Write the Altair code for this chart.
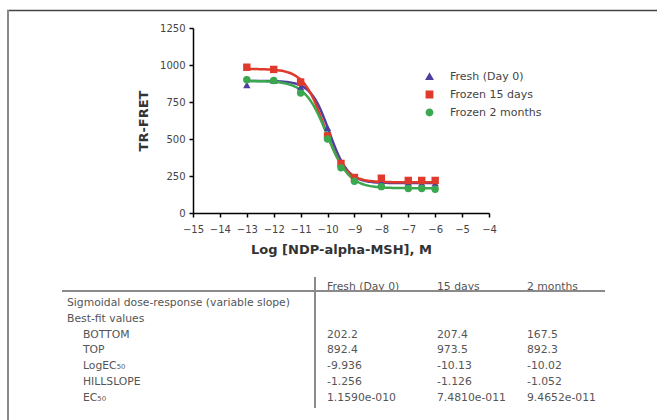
import altair as alt
import numpy as np
import pandas as pd

# ---------------- data ----------------
series = ["Fresh (Day 0)", "Frozen 15 days", "Frozen 2 months"]
log_conc = [-13, -12, -11, -10, -9.5, -9, -8, -7, -6.5, -6]
fresh_vals = [865, 895, 850, 575, 340, 230, 205, 205, 200, 200]
frozen15_vals = [985, 970, 885, 520, 335, 240, 235, 220, 220, 220]
frozen2m_vals = [900, 895, 810, 500, 305, 215, 178, 165, 165, 160]

# best-fit values (sigmoidal dose-response, variable slope)
fit_columns = ["Fresh (Day 0)", "15 days", "2 months"]
fit_bottom = [202.2, 207.4, 167.5]
fit_top = [892.4, 973.5, 892.3]
fit_logec50 = [-9.936, -10.13, -10.02]
fit_hillslope = [-1.256, -1.126, -1.052]
fit_ec50_text = ["1.1590e-010", "7.4810e-011", "9.4652e-011"]

row_labels = ["Sigmoidal dose-response (variable slope)", "Best-fit values",
              "BOTTOM", "TOP", "LogEC\u2085\u2080", "HILLSLOPE", "EC\u2085\u2080"]

x_ticks = list(range(-15, -3))
y_ticks = [0, 250, 500, 750, 1000, 1250]

colors = ["#4d3f9c", "#e03a2c", "#3aa84f"]
shapes = ["triangle-up", "square", "circle"]
FONT = "DejaVu Sans"
TXT = "#444444"

# ---------------- tables for the library ----------------
pts = pd.DataFrame({
    "logc": log_conc * 3,
    "signal": fresh_vals + frozen15_vals + frozen2m_vals,
    "series": [s for s in series for _ in log_conc],
})

xs_curve = np.linspace(log_conc[0], log_conc[-1], 141)
curve_rows = []
for s, b, t, ec, h in zip(series, fit_bottom, fit_top, fit_logec50, fit_hillslope):
    for xv in xs_curve:
        curve_rows.append({"logc": float(xv),
                           "signal": b + (t - b) / (1 + 10 ** ((ec - xv) * h)),
                           "series": s})
curve = pd.DataFrame(curve_rows)

row_keys = ["hdr", "sig", "best", "bottom", "top", "logec", "hill", "ec"]
col_keys = ["head", "sub"] + fit_columns
tbl_rows = []
for c in fit_columns:
    tbl_rows.append({"row": "hdr", "col": c, "text": c})
tbl_rows.append({"row": "sig", "col": "head", "text": row_labels[0]})
tbl_rows.append({"row": "best", "col": "head", "text": row_labels[1]})
for key, lab in zip(row_keys[3:], row_labels[2:]):
    tbl_rows.append({"row": key, "col": "sub", "text": lab})
for i, c in enumerate(fit_columns):
    tbl_rows.append({"row": "bottom", "col": c, "text": str(fit_bottom[i])})
    tbl_rows.append({"row": "top", "col": c, "text": str(fit_top[i])})
    tbl_rows.append({"row": "logec", "col": c, "text": str(fit_logec50[i])})
    tbl_rows.append({"row": "hill", "col": c, "text": str(fit_hillslope[i])})
    tbl_rows.append({"row": "ec", "col": c, "text": fit_ec50_text[i]})
tbl = pd.DataFrame(tbl_rows)

# ---------------- plot ----------------
x_scale = alt.Scale(domain=[-15, -4], nice=False, zero=False)
y_scale = alt.Scale(domain=[0, 1250], nice=False)
x_axis = alt.Axis(values=x_ticks, title="Log [NDP-alpha-MSH], M", grid=False,
                  tickSize=4, tickWidth=1.5, tickColor="black", domainColor="black",
                  domainWidth=1.5, labelFont=FONT, labelFontSize=10, labelColor=TXT,
                  labelPadding=7, labelFlush=False, labelOverlap=False,
                  titleFont=FONT, titleFontSize=13, titleFontWeight="bold",
                  titleColor="#333333", titlePadding=9)
y_axis = alt.Axis(values=y_ticks, title="TR-FRET", grid=False, format="d",
                  tickSize=4, tickWidth=1.5, tickColor="black", domainColor="black",
                  domainWidth=1.5, labelFont=FONT, labelFontSize=10, labelColor=TXT,
                  labelPadding=4, labelFlush=False,
                  titleFont=FONT, titleFontSize=13, titleFontWeight="bold",
                  titleColor="#333333", titlePadding=9)

color_scale = alt.Scale(domain=series, range=colors)
legend = alt.Legend(title=None, orient="none", legendX=231, legendY=43,
                    labelFont=FONT, labelFontSize=11, labelColor=TXT,
                    symbolSize=40, labelOffset=15, rowPadding=5, padding=0)

lines = alt.Chart(curve).mark_line(strokeWidth=2.5).encode(
    x=alt.X("logc:Q", scale=x_scale, axis=x_axis),
    y=alt.Y("signal:Q", scale=y_scale, axis=y_axis),
    color=alt.Color("series:N", scale=color_scale, legend=legend),
)
points = alt.Chart(pts).mark_point(filled=True, size=55, opacity=1).encode(
    x=alt.X("logc:Q", scale=x_scale, axis=x_axis),
    y=alt.Y("signal:Q", scale=y_scale, axis=y_axis),
    color=alt.Color("series:N", scale=color_scale, legend=legend),
    shape=alt.Shape("series:N", scale=alt.Scale(domain=series, range=shapes), legend=legend),
)
plot = alt.layer(lines, points)

# ---------------- results table ----------------
table_text = alt.Chart(tbl).transform_calculate(
    ci="indexof(" + str(col_keys) + ", datum.col)"
).mark_text(align="left", baseline="middle", font=FONT, fontSize=10.8, color="#555555").encode(
    x=alt.X("ci:Q", scale=alt.Scale(domain=[0, 1, 2, 3, 4],
                                    range=[-126, -110, 134, 244, 334],
                                    nice=False, zero=False), axis=None),
    y=alt.Y("row:N", scale=alt.Scale(type="point", domain=row_keys,
                                     range=[259, 370], padding=0), axis=None),
    text="text:N",
)

one = pd.DataFrame({"k": [0]})


def deco(x, x2, y, y2, color, width):
    return alt.Chart(one).mark_rule(color=color, strokeWidth=width).encode(
        x=alt.value(x), x2=alt.value(x2), y=alt.value(y), y2=alt.value(y2))


frame_top = deco(-186, 465, -17.5, -17.5, "#444444", 1.5)
frame_left = deco(-185, -185, -18, 393, "#8a8a8a", 2)
table_h = deco(-131, 412, 263, 263, "#8a8a8a", 2)
table_v = deco(122, 122, 249, 380, "#8a8a8a", 2)

chart = alt.layer(plot, table_text, frame_top, frame_left, table_h, table_v).resolve_scale(
    x="independent", y="independent"
).properties(
    width=296, height=185,
    autosize=alt.AutoSizeParams(type="none"),
    padding={"left": 193, "top": 28, "right": 168, "bottom": 207},
    background="white",
).configure_view(stroke=None)

chart.save("out.html", embed_options={"renderer": "svg", "actions": False})
